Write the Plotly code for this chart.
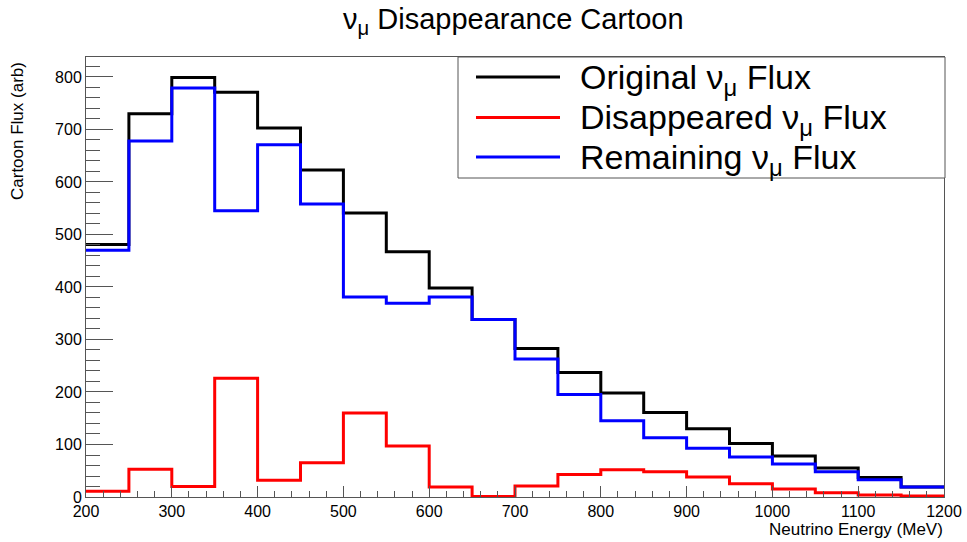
import plotly.graph_objects as go

# Bin edges (MeV)
bin_edges = [200, 250, 300, 350, 400, 450, 500, 550, 600, 650, 700,
             750, 800, 850, 900, 950, 1000, 1050, 1100, 1150, 1200]

original_flux = [481, 730, 799, 771, 703, 623, 541, 467, 398, 338,
                 283, 237, 198, 161, 130, 102, 78, 55, 37, 19]
disappeared_flux = [11, 53, 20, 226, 32, 65, 160, 97, 19, 1,
                    21, 43, 52, 48, 38, 25, 15, 8, 4, 2]
remaining_flux = [470, 678, 779, 545, 671, 558, 381, 369, 381, 338,
                  263, 195, 145, 113, 93, 76, 63, 48, 33, 19]

series_names = ["Original ν<sub>μ</sub> Flux",
                "Disappeared ν<sub>μ</sub> Flux",
                "Remaining ν<sub>μ</sub> Flux"]
series_colors = ["#000000", "#ff0000", "#0000ff"]
series_values = [original_flux, disappeared_flux, remaining_flux]

FONT = "Liberation Sans, Arial, Helvetica, sans-serif"

fig = go.Figure()
for vals, col, name in zip(series_values, series_colors, series_names):
    fig.add_trace(go.Scatter(
        x=bin_edges, y=list(vals) + [vals[-1]],
        mode="lines", line=dict(color=col, width=3, shape="hv"),
        name=name, showlegend=False, hoverinfo="skip"))

W, H = 967, 542
L, R, T, B = 86, 23, 57, 45
pw, ph = W - L - R, H - T - B

def px(x):
    return (x - L) / pw

def py(y):
    return (H - B - y) / ph

axis_common = dict(showline=True, linecolor="#555555", linewidth=1, mirror=True,
                   showgrid=False, zeroline=False, ticks="inside", automargin=False,
                   tickcolor="#555555", tickfont=dict(family=FONT, size=16, color="black"))

fig.update_xaxes(range=[200, 1200], dtick=100, tick0=200, ticklen=11,
                 minor=dict(dtick=20, ticks="inside", ticklen=6, tickcolor="#555555"),
                 **axis_common)
fig.update_yaxes(range=[0, 838], dtick=100, tick0=0, ticklen=27,
                 minor=dict(dtick=20, ticks="inside", ticklen=14, tickcolor="#555555"),
                 **axis_common)

shapes = [dict(type="rect", xref="paper", yref="paper",
               x0=px(458), x1=px(945), y0=py(178), y1=py(57),
               line=dict(color="#555555", width=1), fillcolor="white", layer="above")]
annotations = []
leg_y = [77, 117.5, 157]
for yy, col, name in zip(leg_y, series_colors, series_names):
    shapes.append(dict(type="line", xref="paper", yref="paper",
                       x0=px(476), x1=px(560), y0=py(yy), y1=py(yy),
                       line=dict(color=col, width=3), layer="above"))
    annotations.append(dict(text=name, xref="paper", yref="paper",
                            x=px(578), y=py(yy + 2), xanchor="left", yanchor="middle",
                            showarrow=False, font=dict(family=FONT, size=34, color="black")))

annotations.append(dict(text="Cartoon Flux (arb)", textangle=-90, xref="paper", yref="paper",
                        x=px(17), y=py(60), xanchor="center", yanchor="top",
                        showarrow=False, font=dict(family=FONT, size=17, color="black")))
annotations.append(dict(text="Neutrino Energy (MeV)", xref="paper", yref="paper",
                        x=px(945), y=py(529), xanchor="right", yanchor="middle",
                        showarrow=False, font=dict(family=FONT, size=17, color="black")))
annotations.append(dict(text="ν<sub>μ</sub> Disappearance Cartoon", xref="paper", yref="paper",
                        x=px(513), y=py(21), xanchor="center", yanchor="middle",
                        showarrow=False, font=dict(family=FONT, size=29, color="black")))

fig.update_layout(width=W, height=H, margin=dict(l=L, r=R, t=T, b=B),
                  paper_bgcolor="white", plot_bgcolor="white",
                  shapes=shapes, annotations=annotations, showlegend=False,
                  font=dict(family=FONT))

fig.write_html("out.html")
